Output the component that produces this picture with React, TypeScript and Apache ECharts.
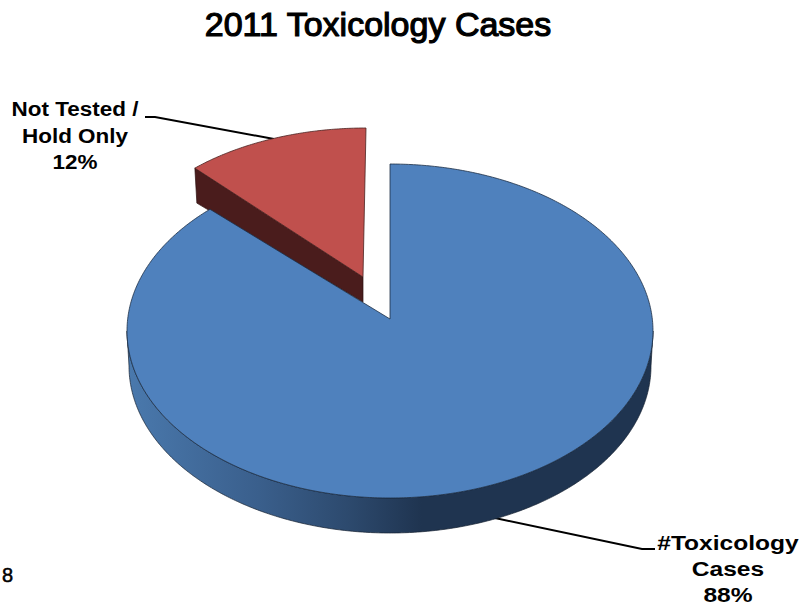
import React, { useEffect, useRef } from "react";
import * as echarts from "echarts";

const categories = ["#Toxicology Cases", "Not Tested / Hold Only"];
const values = [88, 12];
const labelLines = [["#Toxicology", "Cases"], ["Not Tested /", "Hold Only"]];
const titleText = "2011 Toxicology Cases";
const cornerNote = "8";

const FONT = '"Liberation Sans", Arial, sans-serif';
const total = values.reduce((a, b) => a + b, 0);

type Ell = { cx: number; cy: number; rx: number; ry: number };
const rim = (e: Ell, t: number): number[] => [e.cx + e.rx * Math.sin(t), e.cy - e.ry * Math.cos(t)];
const arc = (e: Ell, a: number, b: number): number[][] => {
  const n = Math.max(2, Math.ceil(Math.abs(b - a) / 0.01));
  const out: number[][] = [];
  for (let i = 0; i <= n; i++) out.push(rim(e, a + ((b - a) * i) / n));
  return out;
};

const blueTop: Ell = { cx: 390, cy: 331, rx: 263, ry: 167 };
const blueBottom: Ell = { cx: 390, cy: 366, rx: 261, ry: 167 };
const blueApex = [390, 319];
const redTop: Ell = { cx: 366, cy: 276, rx: 250, ry: 148 };
const redApex = [363, 277];

const leaderLines = [
  [[495, 518], [642, 549], [655, 549]],
  [[145, 117], [155, 117], [274, 139]],
];
const labelPos = [
  { x: 728, y: 542.5, scaleX: 1.17, yStep: 26 },
  { x: 75, y: 109, scaleX: 1.07, yStep: 26.5 },
];

function renderItem(params: any, api: any) {
  const idx: number = params.dataIndex;
  const before = values.slice(0, idx).reduce((a, b) => a + b, 0);
  const a0 = (before / total) * Math.PI * 2;
  const a1 = ((before + (api.value(1) as number)) / total) * Math.PI * 2;
  const children: any[] = [];
  const pct = Math.round(((api.value(1) as number) / total) * 100) + "%";

  children.push({
    type: "polyline",
    z2: 1,
    shape: { points: leaderLines[idx] },
    style: { stroke: "#000", lineWidth: 2, fill: "none" },
  });

  const p = labelPos[idx];
  [...labelLines[idx], pct].forEach((line, i) => {
    children.push({
      type: "text",
      x: p.x,
      y: p.y + i * p.yStep,
      scaleX: p.scaleX,
      z2: 20,
      style: {
        text: line,
        fill: "#000",
        font: `bold 21px ${FONT}`,
        textAlign: "center",
        textVerticalAlign: "middle",
      },
    });
  });

  if (idx === 0) {
    const wall = [
      ...arc(blueTop, Math.PI / 2, (Math.PI * 3) / 2),
      ...arc(blueBottom, (Math.PI * 3) / 2, Math.PI / 2),
    ];
    children.push({
      type: "polygon",
      z2: 6,
      shape: { points: wall },
      style: {
        fill: new echarts.graphic.LinearGradient(127, 0, 653, 0, [
          { offset: 0, color: "#4a79ad" },
          { offset: 0.25, color: "#3a5f8c" },
          { offset: 0.42, color: "#2d4a6e" },
          { offset: 0.56, color: "#1f3450" },
          { offset: 1, color: "#1f3450" },
        ], true),
        stroke: "#14202f",
        lineWidth: 0.7,
      },
    });
    children.push({
      type: "polygon",
      z2: 7,
      shape: { points: [blueApex, ...arc(blueTop, a0, a1)] },
      style: { fill: "#4f81bd", stroke: "#1d2f45", lineWidth: 0.8 },
    });
  } else {
    const depthAtApex = 25;
    const depthAtRim = 35;
    const rimEnd = rim(redTop, a0);
    children.push({
      type: "polygon",
      z2: 3,
      shape: {
        points: [
          rimEnd,
          redApex,
          [redApex[0], redApex[1] + depthAtApex],
          [rimEnd[0] + 2, rimEnd[1] + depthAtRim],
        ],
      },
      style: { fill: "#4a1c1c", stroke: "#2a0f0f", lineWidth: 0.7 },
    });
    children.push({
      type: "polygon",
      z2: 4,
      shape: { points: [redApex, ...arc(redTop, a0, a1)] },
      style: { fill: "#c0504d", stroke: "#4a2322", lineWidth: 0.8 },
    });
  }
  return { type: "group", children };
}

export default function App() {
  const ref = useRef<HTMLDivElement>(null);
  useEffect(() => {
    const chart = echarts.init(ref.current!, undefined, { renderer: "svg" });
    chart.setOption({
      animation: false,
      backgroundColor: "#fff",
      title: {
        text: titleText,
        left: 373,
        top: 2,
        textAlign: "center",
        textStyle: {
          fontFamily: FONT,
          fontWeight: "normal",
          fontSize: 34,
          color: "#000",
          textBorderColor: "#000",
          textBorderWidth: 1.2,
        },
      },
      graphic: [
        {
          type: "text",
          x: 2,
          y: 565,
          style: {
            text: cornerNote,
            fill: "#000",
            font: `20px ${FONT}`,
            stroke: "#000",
            lineWidth: 0.5,
          },
        },
      ],
      series: [
        {
          type: "custom",
          coordinateSystem: "none",
          renderItem,
          data: categories.map((name, i) => ({ name, value: [i, values[i]] })),
        },
      ],
    });
    return () => chart.dispose();
  }, []);
  return <div ref={ref} style={{ position: "absolute", left: 0, top: 0, width: 802, height: 605 }} />;
}
